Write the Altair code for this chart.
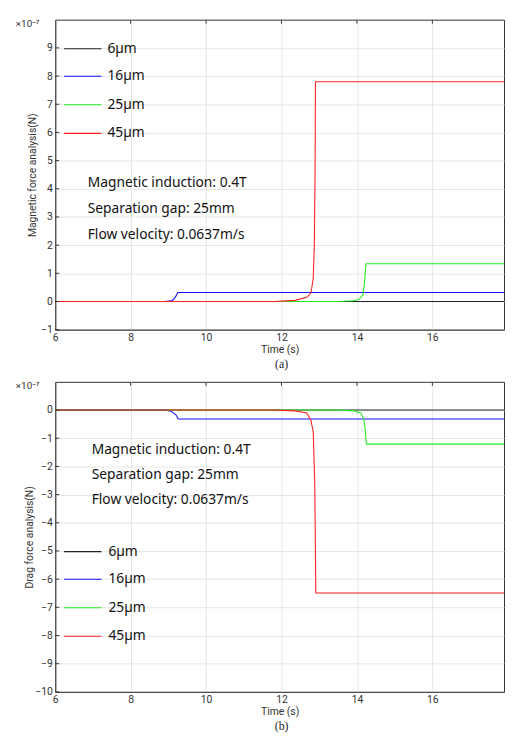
import altair as alt
import pandas as pd

# ---------------- data (values in units of 1e-7 N) ----------------
series_names = ["6µm", "16µm", "25µm", "45µm"]
series_colors = ["#222222", "#1010ff", "#22ee22", "#ff2020"]

# (a) magnetic force
mag_t_6 = [6, 17.9]
mag_y_6 = [0, 0]
mag_t_16 = [6, 8.9, 9.07, 9.14, 9.2, 9.23, 9.25, 17.9]
mag_y_16 = [0, 0, 0.03, 0.07, 0.19, 0.27, 0.32, 0.32]
mag_t_25 = [6, 13.5, 13.9, 14.05, 14.16, 14.2, 14.22, 14.24, 17.9]
mag_y_25 = [0, 0, 0.03, 0.07, 0.24, 0.65, 1.0, 1.34, 1.34]
mag_t_45 = [6, 11.8, 12.36, 12.67, 12.78, 12.84, 12.87, 12.89, 12.9, 17.9]
mag_y_45 = [0, 0, 0.04, 0.15, 0.3, 0.8, 2.0, 4.5, 7.8, 7.8]

# (b) drag force
drg_t_6 = [6, 17.9]
drg_y_6 = [0, 0]
drg_t_16 = [6, 8.9, 9.07, 9.2, 9.24, 9.26, 17.9]
drg_y_16 = [0, 0, -0.04, -0.17, -0.26, -0.32, -0.32]
drg_t_25 = [6, 13.5, 13.92, 14.1, 14.18, 14.22, 14.25, 17.9]
drg_y_25 = [0, 0, -0.03, -0.1, -0.31, -0.7, -1.21, -1.21]
drg_t_45 = [6, 11.8, 12.36, 12.67, 12.78, 12.84, 12.88, 12.91, 17.9]
drg_y_45 = [0, 0, -0.03, -0.1, -0.37, -0.76, -2.5, -6.49, -6.49]

x_ticks = [6, 8, 10, 12, 14, 16]
mag_y_ticks = [-1, 0, 1, 2, 3, 4, 5, 6, 7, 8, 9]
drg_y_ticks = [-10, -9, -8, -7, -6, -5, -4, -3, -2, -1, 0]

annot_lines = ["Magnetic induction: 0.4T", "Separation gap: 25mm", "Flow velocity: 0.0637m/s"]

FONT = "Noto Sans"
AXFONT = "Roboto"
W, H = 456, 315
K = H / 318.0


def long_df(ts, ys):
    rows = []
    for name, t, y in zip(series_names, ts, ys):
        for i, (tt, yy) in enumerate(zip(t, y)):
            rows.append({"series": name, "t": tt, "v": yy, "idx": i})
    return pd.DataFrame(rows)


def axis_common(**kw):
    return alt.Axis(ticks=False, labelPadding=3, grid=True, gridColor="#e6e6e6",
                    domainColor="#333333", labelColor="#333333", titleColor="#333333",
                    labelFont=AXFONT, titleFont=AXFONT, labelFontSize=10.5, titleFontSize=10.5,
                    titleFontWeight="normal", labelOverlap=False, labelFlush=False, **kw)


def panel(df, ydomain, yticks, ytitle, ytitle_pad, legend_y, annot_x, annot_y,
          legend_text_x, letter, letter_off):
    xs = alt.Scale(domain=[6, 17.9], nice=False, zero=False)
    ys = alt.Scale(domain=ydomain, nice=False, zero=False)
    xaxis = axis_common(values=x_ticks, titlePadding=2)
    yaxis = axis_common(values=yticks, titlePadding=ytitle_pad)
    lines = alt.Chart(df).mark_line(strokeWidth=1.1, clip=True).encode(
        x=alt.X("t:Q", scale=xs, title="Time (s)", axis=xaxis),
        y=alt.Y("v:Q", scale=ys, title=ytitle, axis=yaxis),
        color=alt.Color("series:N", scale=alt.Scale(domain=series_names, range=series_colors),
                        legend=None),
        order=alt.Order("idx:Q"),
        detail="series:N",
    )
    layers = [lines]

    # inward ticks on left and top
    ytick_df = pd.DataFrame({"v": yticks})
    layers.append(alt.Chart(ytick_df).mark_rule(color="#333333", strokeWidth=1).encode(
        y=alt.Y("v:Q", scale=ys, title=ytitle, axis=yaxis), x=alt.value(0), x2=alt.value(4)))
    xtick_df = pd.DataFrame({"t": x_ticks[1:]})
    layers.append(alt.Chart(xtick_df).mark_rule(color="#333333", strokeWidth=1).encode(
        x=alt.X("t:Q", scale=xs, title="Time (s)", axis=xaxis), y=alt.value(0), y2=alt.value(4)))

    # legend drawn inside the plot
    for name, col, ly in zip(series_names, series_colors, legend_y):
        layers.append(alt.Chart(pd.DataFrame({"a": [0]})).mark_rule(color=col, strokeWidth=1.1).encode(
            x=alt.value(9), x2=alt.value(47), y=alt.value(ly)))
        layers.append(alt.Chart(pd.DataFrame({"label": [name]})).mark_text(
            align="left", baseline="middle", font=FONT, fontSize=14, color="#111111").encode(
            text="label:N", x=alt.value(legend_text_x), y=alt.value(ly)))

    # annotation
    for txt, ay in zip(annot_lines, annot_y):
        layers.append(alt.Chart(pd.DataFrame({"label": [txt]})).mark_text(
            align="left", baseline="middle", font=FONT, fontSize=14, color="#111111").encode(
            text="label:N", x=alt.value(annot_x), y=alt.value(ay)))

    # exponent and panel letter
    layers.append(alt.Chart(pd.DataFrame({"label": ["×10⁻⁷"]})).mark_text(
        align="left", baseline="middle", font=AXFONT, fontSize=10, color="#333333").encode(
        text="label:N", x=alt.value(-40), y=alt.value(4)))
    layers.append(alt.Chart(pd.DataFrame({"label": [letter]})).mark_text(
        align="center", baseline="middle", font="Liberation Serif", fontSize=12,
        color="#222222").encode(
        text="label:N", x=alt.value(W / 2 + 2), y=alt.value(H + letter_off)))

    return alt.layer(*layers).properties(width=W, height=H)


df_a = long_df([mag_t_6, mag_t_16, mag_t_25, mag_t_45], [mag_y_6, mag_y_16, mag_y_25, mag_y_45])
df_b = long_df([drg_t_6, drg_t_16, drg_t_25, drg_t_45], [drg_y_6, drg_y_16, drg_y_25, drg_y_45])

unit = H / 11.0
top = panel(df_a, [-1, 10], mag_y_ticks, "Magnetic force analysis(N)", 3,
            [round((10 - v) * unit) + 0.5 for v in (9, 8, 7, 6)], 33,
            [168 * K, 194 * K, 221 * K], 53, "(a)", 35)
bottom = panel(df_b, [-10, 1], drg_y_ticks, "Drag force analysis(N)", 0,
               [round((1 - v) * unit) + 0.5 for v in (-5, -6, -7, -8)], 37,
               [70 * K, 96 * K, 121 * K], 54, "(b)", 35)

chart = alt.vconcat(top, bottom, spacing=53, bounds="flush").properties(
    padding={"left": 7, "top": 4, "right": 0, "bottom": 0}
).configure_view(stroke="#333333", strokeWidth=1).configure_axis(labelOverlap=False)

chart.save("out.html", embed_options={"renderer": "svg", "actions": False})
